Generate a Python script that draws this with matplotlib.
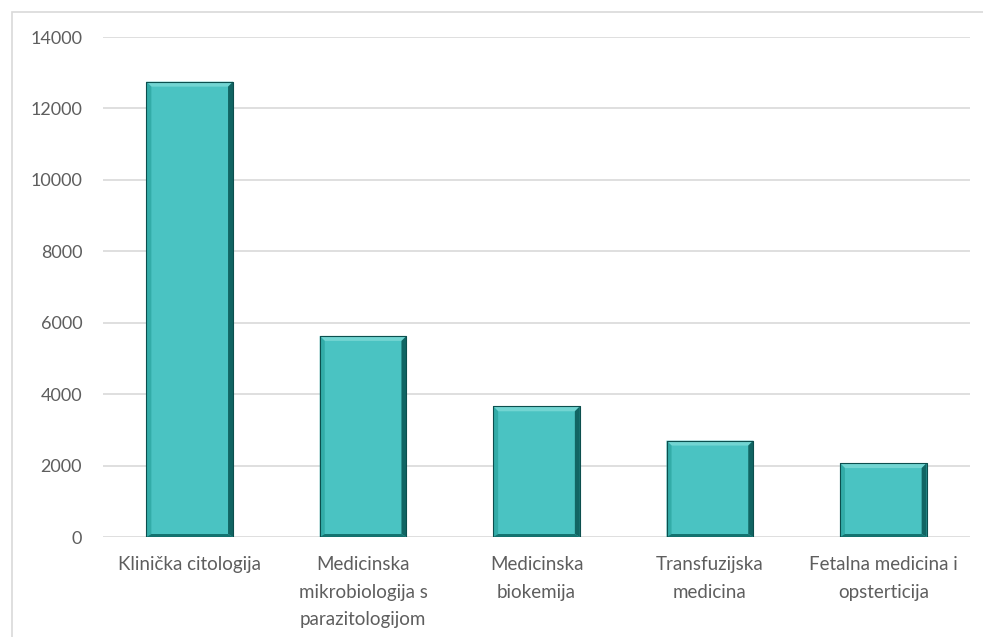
import matplotlib
matplotlib.use("Agg")
import matplotlib.pyplot as plt
from matplotlib.patches import Polygon, Rectangle

# ── data ──────────────────────────────────────────────────────────────────────
categories = [
    "Klinička citologija",
    "Medicinska\nmikrobiologija s\nparazitologijom",
    "Medicinska\nbiokemija",
    "Transfuzijska\nmedicina",
    "Fetalna medicina i\nopsterticija",
]
values = [12750, 5630, 3660, 2700, 2070]
y_ticks = [0, 2000, 4000, 6000, 8000, 10000, 12000, 14000]

# ── style ─────────────────────────────────────────────────────────────────────
plt.rcParams["font.family"] = ["Lato", "DejaVu Sans"]
FILL = "#4AC3C2"
TOP = "#72D5D2"
LEFT = "#33ACA8"
RIGHT = "#116563"
BOTTOM = "#147370"
TXT = "#5E5E5E"

fig = plt.figure(figsize=(9.83, 6.37), dpi=100)
fig.patch.set_facecolor("white")
fig.patches.append(Rectangle((12 / 983, -0.01), 1.1, 1 - 12 / 637 + 0.01,
                             transform=fig.transFigure, fill=False,
                             edgecolor="#D9D9D9", lw=1.2))
ax = fig.add_axes([103 / 983, 100 / 637, 867 / 983, 500 / 637])

x = list(range(len(categories)))
width = 0.5
ax.bar(x, values, width=width, color=FILL, edgecolor="none", zorder=3)

# bevel edges, sized in pixels then converted to data units
bx = 5 / 867 * len(categories)
by = 5 / 500 * y_ticks[-1]
for xi, v in zip(x, values):
    l, r = xi - width / 2, xi + width / 2
    ax.add_patch(Polygon([(l, v), (r, v), (r - bx, v - by), (l + bx, v - by)],
                         closed=True, color=TOP, lw=0, zorder=4))
    ax.add_patch(Polygon([(l, 0), (l, v), (l + bx, v - by), (l + bx, by * 0.6)],
                         closed=True, color=LEFT, lw=0, zorder=4))
    ax.add_patch(Polygon([(r, 0), (r, v), (r - bx, v - by), (r - bx, by * 0.6)],
                         closed=True, color=RIGHT, lw=0, zorder=4))
    ax.add_patch(Polygon([(l, 0), (r, 0), (r - bx, by * 0.6), (l + bx, by * 0.6)],
                         closed=True, color=BOTTOM, lw=0, zorder=4))
    ax.plot([l, r, r, l, l], [0, 0, v, v, 0], color="#0C4F4E", lw=0.8, zorder=5)

ax.set_xlim(-0.5, len(categories) - 0.5)
ax.set_ylim(0, y_ticks[-1])
ax.set_yticks(y_ticks)
ax.set_yticklabels([str(t) for t in y_ticks], color=TXT, fontsize=13)
ax.set_xticks(x)
ax.set_xticklabels(categories, color=TXT, fontsize=13.5, linespacing=1.75, va="top")
ax.tick_params(axis="both", length=0)
ax.tick_params(axis="y", pad=15)
ax.tick_params(axis="x", pad=14)
ax.grid(axis="y", color="#D9D9D9", lw=1.2, zorder=0)
for s in ax.spines.values():
    s.set_visible(False)

plt.savefig("out.png", dpi=100, facecolor="white")
